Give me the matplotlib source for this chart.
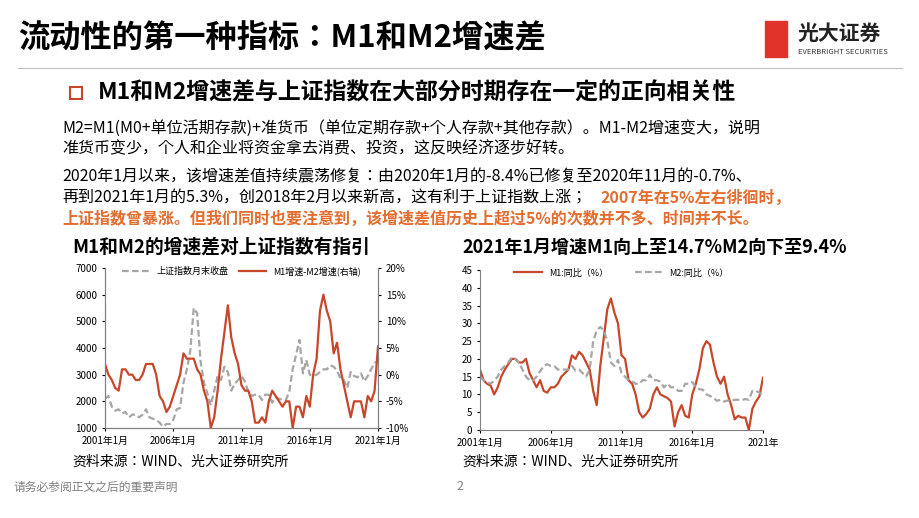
import matplotlib
matplotlib.use("Agg")
import matplotlib.pyplot as plt
import numpy as np
from matplotlib.patches import Rectangle

plt.rcParams["font.family"] = ["Noto Sans CJK JP", "DejaVu Sans"]

# quarterly data 2001Q1 .. 2021Q1
m1 = [17, 14, 13, 12.5, 10, 12, 15, 17, 18.5, 20, 20, 19, 19, 20, 16, 14,
      12, 14, 11, 10.5, 12, 12, 13, 15, 16, 17, 21, 20, 22, 21, 19, 17,
      11, 7, 18, 26, 34, 37, 33, 30, 21, 20, 14, 13, 10, 5, 3.5, 4.5,
      6, 10, 12, 10, 9.5, 9, 8, 1, 5, 7, 4, 3.5, 10, 13, 17, 23,
      25, 24, 19, 15, 13, 15, 10, 7, 3, 4, 3.5, 3.5, 0, 6, 8, 9.5, 14.7]
m2 = [15, 14, 13.5, 13, 14, 15, 17, 18, 19, 20.5, 20, 19, 17, 15, 14, 14,
      15, 16.5, 18, 18.5, 18, 18, 17, 17, 17, 17, 18, 16.7, 17, 16, 15, 17,
      25, 28, 29, 28, 25, 19, 18, 19.7, 16, 15, 14, 13.6, 13, 13, 14, 14,
      15.5, 14, 14, 13.6, 12, 13, 12, 12, 11, 11, 13, 13, 13.5, 12, 11.5, 11.3,
      10, 9.6, 9, 8.2, 8.5, 8, 8.3, 8.1, 8.5, 8.5, 8.4, 8.7, 8.5, 11, 11, 10.5, 9.4]
diff = [2, 0, -1, -2.5, -3, 1, 1, 0, 0, -1, -1, 0, 2, 2, 2, 0,
        -4, -5, -7, -6, -4, -2, 0, 4, 3, 3, 3, 1, 0, -3, -5, -10,
        -8, -3, 3, 8, 13, 7, 4, 2, -2, -3, -3, -5, -9, -9, -8, -9,
        -5, -3, -4, -5, -6, -5, -5, -10, -6, -6, -8, -4, -6, 0, 3, 12,
        15, 12, 10, 4, 6, 1, -2, -5, -8, -5, -5, -5, -8, -4, -5, -3, 5.3]
shidx = [2100, 2200, 1800, 1650, 1700, 1550, 1600, 1400, 1500, 1500, 1400, 1500,
         1700, 1400, 1350, 1300, 1200, 1050, 1150, 1150, 1300, 1700, 1750, 2700,
         3200, 3900, 5500, 5300, 3500, 2700, 2300, 1850, 2400, 2950, 2800, 3300,
         3100, 2400, 2650, 2800, 2950, 2750, 2350, 2200, 2250, 2250, 2050, 2250,
         2250, 1950, 2150, 2100, 2050, 2050, 2350, 3200, 3750, 4300, 3050, 3550,
         3000, 2950, 3000, 3100, 3200, 3200, 3350, 3300, 3150, 2850, 2800, 2500,
         3100, 2950, 2900, 3050, 2750, 2950, 3200, 3450, 3480]
xticks1 = ["2001年1月", "2006年1月", "2011年1月", "2016年1月", "2021年1月"]
xticks2 = ["2001年1月", "2006年1月", "2011年1月", "2016年1月", "2021年"]

t = 2001 + np.arange(len(m1)) * 0.25
RED = "#C8472A"
GREY = "#A6A6A6"

W, H = 920, 518
fig = plt.figure(figsize=(W / 100, H / 100), dpi=100)

def ft(x, y, s, **kw):
    return fig.text(x / W, 1 - y / H, s, **kw)

# header
ft(18, 38, "流动性的第一种指标：M1和M2增速差", fontsize=22.5, fontweight="bold", va="center")
fig.add_artist(plt.Line2D([18 / W, 902 / W], [1 - 68 / H] * 2, color="#BFBFBF", lw=0.8))
fig.add_artist(Rectangle((765 / W, 1 - 57 / H), 22 / W, 36 / H, color="#E0332B"))
ft(798, 33, "光大证券", fontsize=15, fontweight="bold", color="#222222", va="center")
ft(798, 52, "EVERBRIGHT SECURITIES", fontsize=5.5, color="#333333", va="center")
# subtitle
fig.add_artist(Rectangle((70 / W, 1 - 99 / H), 12 / W, 12 / H, fill=False, ec="#C8472A", lw=1.5))
ft(98, 93, "M1和M2增速差与上证指数在大部分时期存在一定的正向相关性", fontsize=16.5, fontweight="bold", va="center")
# body
bs = 11.5
ft(62, 128, "M2=M1(M0+单位活期存款)+准货币（单位定期存款+个人存款+其他存款）。M1-M2增速变大，说明",
   fontsize=bs, va="center")
ft(62, 149, "准货币变少，个人和企业将资金拿去消费、投资，这反映经济逐步好转。", fontsize=bs, va="center")
ft(62, 177, "2020年1月以来，该增速差值持续震荡修复：由2020年1月的-8.4%已修复至2020年11月的-0.7%、",
   fontsize=bs, va="center")
ft(62, 198, "再到2021年1月的5.3%，创2018年2月以来新高，这有利于上证指数上涨；", fontsize=bs, va="center")
ft(601, 198, "2007年在5%左右徘徊时，", fontsize=bs, va="center", color="#E46C2E", fontweight="bold")
ft(62, 219, "上证指数曾暴涨。但我们同时也要注意到，该增速差值历史上超过5%的次数并不多、时间并不长。",
   fontsize=bs, va="center", color="#E46C2E", fontweight="bold")
ft(72, 247, "M1和M2的增速差对上证指数有指引", fontsize=13.5, fontweight="bold", va="center")
ft(462, 247, "2021年1月增速M1向上至14.7%M2向下至9.4%", fontsize=13, fontweight="bold", va="center")
ft(72, 462, "资料来源：WIND、光大证券研究所", fontsize=10, va="center")
ft(462, 462, "资料来源：WIND、光大证券研究所", fontsize=10, va="center")
ft(14, 487, "请务必参阅正文之后的重要声明", fontsize=8.5, color="#808080", va="center")
ft(456, 487, "2", fontsize=9, color="#808080", va="center")

tf = dict(fontsize=7)
# chart 1
ax1 = fig.add_axes([105 / W, 1 - 428 / H, 273 / W, 160 / H])
l1, = ax1.plot(t, shidx, color=GREY, lw=1.6, ls=(0, (3, 1.5)), label="上证指数月末收盘")
ax1.set_ylim(1000, 7000)
ax1.set_yticks(range(1000, 7001, 1000))
ax1.set_xlim(2001, 2021)
ax1.set_xticks([2001, 2006, 2011, 2016, 2021])
ax1.set_xticklabels(xticks1, **tf)
ax1.tick_params(labelsize=7, length=2)
ax1b = ax1.twinx()
l2, = ax1b.plot(t, diff, color=RED, lw=1.6, label="M1增速-M2增速(右轴)")
ax1b.set_ylim(-10, 20)
ax1b.set_yticks(range(-10, 21, 5))
ax1b.set_yticklabels([f"{v}%" for v in range(-10, 21, 5)])
ax1b.tick_params(labelsize=7, length=2)
for a in (ax1, ax1b):
    a.spines["top"].set_visible(False)
    for s in ("left", "right", "bottom"):
        a.spines[s].set_color("#808080")
ax1.legend(handles=[l1, l2], loc="upper center", ncol=2, frameon=False, fontsize=6.5,
           bbox_to_anchor=(0.5, 1.06), handlelength=3, columnspacing=1.2)

# chart 2
ax2 = fig.add_axes([480 / W, 1 - 430 / H, 283 / W, 160 / H])
a1, = ax2.plot(t, m1, color=RED, lw=1.6, label="M1:同比（%）")
a2, = ax2.plot(t, m2, color=GREY, lw=1.6, ls=(0, (3, 1.5)), label="M2:同比（%）")
ax2.set_ylim(0, 45)
ax2.set_yticks(range(0, 46, 5))
ax2.set_xlim(2001, 2021)
ax2.set_xticks([2001, 2006, 2011, 2016, 2021])
ax2.set_xticklabels(xticks2)
ax2.tick_params(labelsize=7, length=2)
for s in ("top", "right"):
    ax2.spines[s].set_visible(False)
for s in ("left", "bottom"):
    ax2.spines[s].set_color("#808080")
ax2.legend(loc="upper center", ncol=2, frameon=False, fontsize=6.5,
           bbox_to_anchor=(0.5, 1.06), handlelength=3, columnspacing=3)

fig.savefig("out.png", dpi=100)
